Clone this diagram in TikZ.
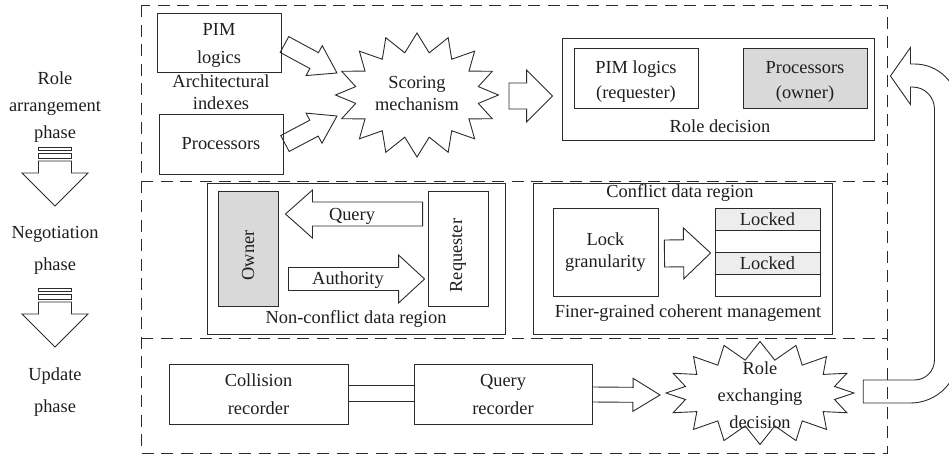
\documentclass[tikz,border=0pt]{standalone}
\usepackage{fontspec}
\setmainfont{Liberation Serif}
\usepackage{graphicx}
\usetikzlibrary{calc}

\definecolor{ink}{HTML}{2B2B2B}
\definecolor{txt}{HTML}{1E1E1E}
\definecolor{shade}{HTML}{D9D9D9}
\definecolor{lightshade}{HTML}{EDEDED}

% sixteen-point star outline around a node: node / x radius / y radius / point depth
\newcommand\burstaround[4]{%
  \draw[stroke] ($(#1)+(0:#2 and #3)$)
    \foreach \k in {0,...,15} {
      -- ($(#1)+(\k*22.5:#2 and #3)$)
      -- ($(#1)+(\k*22.5+11.25:{#2-#4} and {#3-#4})$)}
    -- cycle;}

\tikzset{
  every node/.style={font=\fontsize{18.4}{22}\selectfont, text=txt},
  stroke/.style={draw=ink, line width=0.9pt},
  box/.style={stroke, inner sep=0pt, align=center},
  lbl/.style={inner sep=0pt, align=center},
  frame/.style={draw=ink, line width=0.9pt, dash pattern=on 12pt off 7.5pt},
  % block arrow: half shaft width / half head width / head length
  barrow/.style n args={3}{to path={
    ($(\tikztostart)!#1pt!90:(\tikztotarget)$)
    -- ($($(\tikztotarget)!#3pt!(\tikztostart)$)!#1pt!90:(\tikztotarget)$)
    -- ($($(\tikztotarget)!#3pt!(\tikztostart)$)!#2pt!90:(\tikztotarget)$)
    -- (\tikztotarget)
    -- ($($(\tikztotarget)!#3pt!(\tikztostart)$)!#2pt!-90:(\tikztotarget)$)
    -- ($($(\tikztotarget)!#3pt!(\tikztostart)$)!#1pt!-90:(\tikztotarget)$)
    -- ($(\tikztostart)!#1pt!-90:(\tikztotarget)$) -- cycle}},
  % same, with the tail left open against a box edge
  barrowopen/.style n args={3}{to path={
    ($(\tikztostart)!#1pt!90:(\tikztotarget)$)
    -- ($($(\tikztotarget)!#3pt!(\tikztostart)$)!#1pt!90:(\tikztotarget)$)
    -- ($($(\tikztotarget)!#3pt!(\tikztostart)$)!#2pt!90:(\tikztotarget)$)
    -- (\tikztotarget)
    -- ($($(\tikztotarget)!#3pt!(\tikztostart)$)!#2pt!-90:(\tikztotarget)$)
    -- ($($(\tikztotarget)!#3pt!(\tikztostart)$)!#1pt!-90:(\tikztotarget)$)
    -- ($(\tikztostart)!#1pt!-90:(\tikztotarget)$)}},
  phasearrow/.pic={
    \draw[stroke] (-16.5,0) rectangle (16.5,3);
    \draw[stroke] (-16.5,6) rectangle (16.5,11.5);
    \draw[stroke] (-16.5,14) -- (-16.5,26) -- (-33,26) -- (0,59)
      -- (33,26) -- (16.5,26) -- (16.5,14) -- cycle;
  },
}

\begin{document}
\begin{tikzpicture}[x=1pt, y=-1pt]
\useasboundingbox (0,0) rectangle (949,455);

% phase frames
\draw[frame] (141,5) rectangle (887,453);
\draw[frame] (141,181) -- (887,181);
\draw[frame] (141,338) -- (887,338);

% phase column
\node[lbl] (ph1) at (55,107) {Role\\[5pt]arrangement\\[5pt]phase};
\pic at (55,147) {phasearrow};
\node[lbl] (ph2) at (55,250) {Negotiation\\[10pt]phase};
\pic at (55,288) {phasearrow};
\node[lbl] (ph3) at (55,392) {Update\\[10pt]phase};

% role arrangement
\node[box, minimum width=124, minimum height=59] (pim) at (219,42.5)
  {\rule{0pt}{17pt}PIM\\[6pt]logics};
\node[lbl] (arch) at (221,92.5) {Architectural\\indexes};
\node[box, minimum width=124, minimum height=60] (proc) at (221,144) {Processors};
\node[lbl, minimum width=163, minimum height=124] (score) at (417,95) {};
\burstaround{score}{81.5}{62}{19}
\node[lbl] (scoretxt) at ($(score)+(0,-2)$) {Scoring\\mechanism};

\node[box, minimum width=312, minimum height=102] (rd) at (718,89) {};
\node[box, minimum width=124, minimum height=60] (req1) at (636,78)
  {\rule{0pt}{19pt}PIM logics\\[3pt](requester)};
\node[box, fill=shade, minimum width=124, minimum height=60] (own1) at (805,78)
  {\rule{0pt}{19pt}Processors\\[3pt](owner)};
\node[lbl] (rdl) at (720,126) {Role decision};

\coordinate (a1s) at ($(pim.east)+(3,2)$);
\coordinate (a1e) at ($(score.center)+(-80,-22)$);
\coordinate (a2s) at ($(proc.east)+(1.5,-0.5)$);
\coordinate (a2e) at ($(score.center)+(-80,21)$);
\coordinate (a3s) at ($(score.center)+(92,1)$);
\coordinate (a3e) at ($(rd.west)+(-9,7)$);
\draw[stroke, barrow={9}{17}{26}] (a1s) to (a1e);
\draw[stroke, barrow={9}{17}{26}] (a2s) to (a2e);
\draw[stroke, barrow={13}{26}{26}] (a3s) to (a3e);

% negotiation
\node[box, minimum width=298, minimum height=151] (nc) at (356,258.5) {};
\node[box, fill=shade, minimum width=60, minimum height=115] (owner) at (248,248.5)
  {\rotatebox{90}{Owner\hspace{14pt}}};
\node[box, minimum width=60, minimum height=115] (req) at (458,248.5)
  {\rotatebox{90}{Requester\hspace{14pt}}};
\node[lbl] (ncl) at (356,319) {Non-conflict data region};

\coordinate (a4s) at ($(req.west)+(-5,-34.5)$);
\coordinate (a4e) at ($(owner.east)+(7,-34.5)$);
\coordinate (a5s) at ($(owner.east)+(10,30.5)$);
\coordinate (a5e) at ($(req.west)+(-3,30.5)$);
\draw[stroke, barrow={12}{24}{27}] (a4s) to (a4e);
\draw[stroke, barrow={11.5}{24}{26}] (a5s) to (a5e);
\node[lbl] (qlab) at (352,216) {Query};
\node[lbl] (alab) at (348,280) {Authority};

\node[box, minimum width=299, minimum height=151] (cf) at (682.5,258.5) {};
\node[lbl] (cfl) at (680,193) {Conflict data region};
\node[box, minimum width=105, minimum height=88] (lock) at (605.5,252) {Lock\\granularity};
\node[box, fill=lightshade, minimum width=105, minimum height=22] (r1) at (767.5,219) {Locked};
\node[box, minimum width=105, minimum height=22] (r2) at (767.5,241) {};
\node[box, fill=lightshade, minimum width=105, minimum height=22] (r3) at (767.5,263) {Locked};
\node[box, minimum width=105, minimum height=22] (r4) at (767.5,285) {};
\node[lbl] (fgl) at (688,313) {Finer-grained coherent management};

\coordinate (a6s) at ($(lock.east)+(6,1.5)$);
\coordinate (a6e) at ($(r2.west)+(-4,12)$);
\draw[stroke, barrow={13.5}{25.5}{27}] (a6s) to (a6e);

% update
\node[box, minimum width=179, minimum height=60] (coll) at (258.5,394)
  {Collision\\[6pt]recorder};
\node[box, minimum width=178, minimum height=60] (qrec) at (503,394)
  {Query\\[6pt]recorder};
\draw[stroke] ($(coll.east)+(0,-9)$) -- ($(qrec.west)+(0,-9)$);
\draw[stroke] ($(coll.east)+(0,7)$) -- ($(qrec.west)+(0,7)$);

\node[lbl, minimum width=188, minimum height=103] (red) at (760,393) {};
\burstaround{red}{94}{51.5}{18}
\node[lbl] (redl) at (760,395) {Role\\[5pt]exchanging\\[5pt]decision};

\coordinate (a7s) at ($(qrec.east)+(0,0.5)$);
\coordinate (a7e) at ($(red.center)+(-100,2)$);
\draw[stroke, barrowopen={7.5}{16.5}{27}] (a7s) to (a7e);

% return arrow from the exchange decision back to the role decision
\coordinate (rt) at ($(red.east)+(9,-1.5)$);
\coordinate (rh) at ($(rd.east)+(16,-13)$);
\draw[stroke] let \p1=(rt), \p2=(rh) in
  (\x1,\y1+11.5pt) -- (\x2+24pt,\y1+11.5pt)
  arc[start angle=-90, end angle=0, radius=20pt]
  -- (\x2+44pt,\y2-33pt)
  arc[start angle=0, end angle=90, radius=22pt]
  -- (\x2+20pt,\y2-11pt) -- (\x2+20pt,\y2-28.5pt) -- (\p2)
  -- (\x2+20pt,\y2+28.5pt) -- (\x2+20pt,\y2+12pt) -- (\x2+24pt,\y2+12pt)
  arc[start angle=90, end angle=0, radius=44pt]
  -- (\x2+68pt,\y1+36.5pt)
  arc[start angle=0, end angle=-90, radius=48pt]
  -- (\x1,\y1-11.5pt) -- cycle;
\end{tikzpicture}
\end{document}
